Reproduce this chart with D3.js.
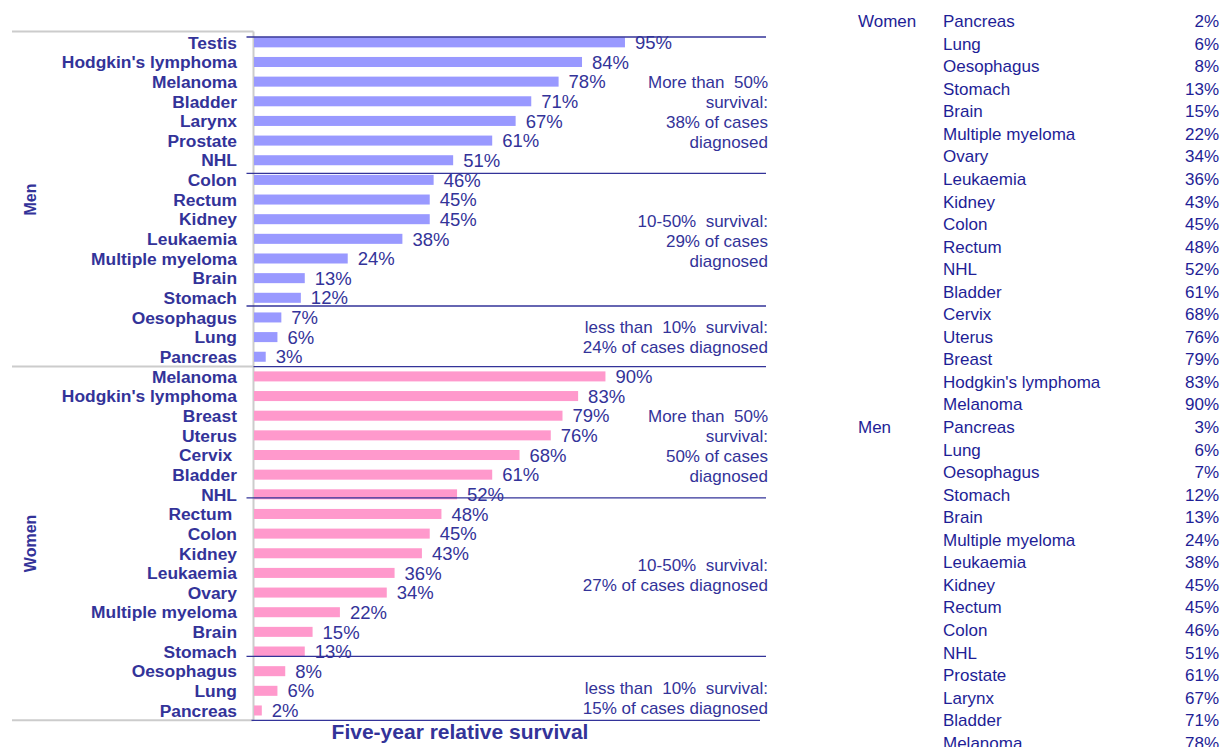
<!DOCTYPE html>
<html>
<head>
<meta charset="utf-8">
<script src="https://cdn.jsdelivr.net/npm/d3@7"></script>
<style>
  body { margin: 0; background: #fff; overflow: hidden; }
  svg text { font-family: "Liberation Sans", Arial, sans-serif; white-space: pre; }
</style>
</head>
<body>
<div id="chart"></div>
<script>
// source table, ascending survival (as listed on the right)
const womenCancers = ['Pancreas', 'Lung', 'Oesophagus', 'Stomach', 'Brain', 'Multiple myeloma', 'Ovary', 'Leukaemia',
  'Kidney', 'Colon', 'Rectum ', 'NHL', 'Bladder', 'Cervix ', 'Uterus', 'Breast', "Hodgkin's lymphoma", 'Melanoma'];
const womenSurvival = [2, 6, 8, 13, 15, 22, 34, 36, 43, 45, 48, 52, 61, 68, 76, 79, 83, 90];

const menCancers = ['Pancreas', 'Lung', 'Oesophagus', 'Stomach', 'Brain', 'Multiple myeloma', 'Leukaemia', 'Kidney',
  'Rectum', 'Colon', 'NHL', 'Prostate', 'Larynx', 'Bladder', 'Melanoma', "Hodgkin's lymphoma", 'Testis'];
const menSurvival = [3, 6, 7, 12, 13, 24, 38, 45, 45, 46, 51, 61, 67, 71, 78, 84, 95];

// survival bands, top to bottom: >50%, 10-50%, <10%
const bandThresholds = [50, 10];
const menNotes = [
  ['More than  50%', 'survival:', '38% of cases', 'diagnosed'],
  ['10-50%  survival:', '29% of cases', 'diagnosed'],
  ['less than  10%  survival:', '24% of cases diagnosed']
];
const womenNotes = [
  ['More than  50%', 'survival:', '50% of cases', 'diagnosed'],
  ['10-50%  survival:', '27% of cases diagnosed'],
  ['less than  10%  survival:', '15% of cases diagnosed']
];

const width = 1228,
  height = 747;

const textColor = '#333399',
  tableColor = '#1e1e96',
  greyLine = '#cccccc';

// the separator lines and text boxes were placed by hand in the original,
// so nudge them a little from the exact band edges / centres
const lineNudge = [[4.5, 3.3, -1.6], [0, -6.3, -5]];
const noteNudge = [[11, 2, 0], [11, -8, 7]];

const groups = [
  { sex: 'Men', names: menCancers, values: menSurvival, notes: menNotes, color: '#9999ff' },
  { sex: 'Women', names: womenCancers, values: womenSurvival, notes: womenNotes, color: '#ff99cc' }
];

function bandOf(v) {
  if (v > bandThresholds[0]) return 0;
  if (v >= bandThresholds[1]) return 1;
  return 2;
}

// chart rows: highest survival at the top of each group
const rows = [];
groups.forEach(function (g) {
  d3.range(g.names.length - 1, -1, -1).forEach(function (i) {
    rows.push({ key: g.sex + '|' + i, sex: g.sex, name: g.names[i], value: g.values[i], band: bandOf(g.values[i]), color: g.color });
  });
});

const svg = d3.select('#chart')
  .append('svg')
  .attr('width', width)
  .attr('height', height);

const x = d3.scaleLinear()
  .domain([0, 100])
  .range([254, 644.5]);

const y = d3.scaleBand()
  .domain(rows.map(function (d) { return d.key; }))
  .range([32.5, 720.3])
  .paddingInner(0.49)
  .paddingOuter(0.245);

const gap = y.step() * y.paddingInner() / 2;
const rowTop = function (key) { return y(key) - gap; };
const rowBottom = function (key) { return y(key) + y.bandwidth() + gap; };
const axisX = x(0) - 0.5;

//Grey category frame
svg.append('line')
  .attr('x1', axisX).attr('x2', axisX)
  .attr('y1', y.range()[0] - 1).attr('y2', y.range()[1])
  .style('stroke', greyLine).style('stroke-width', 2);

const frameYs = [y.range()[0] - 1];
groups.forEach(function (g) {
  const gRows = rows.filter(function (d) { return d.sex === g.sex; });
  frameYs.push(rowBottom(gRows[gRows.length - 1].key));
});

svg.selectAll('.frameLine')
  .data(frameYs)
  .enter().append('line')
  .attr('class', 'frameLine')
  .attr('x1', 12).attr('x2', axisX)
  .attr('y1', function (d) { return d; })
  .attr('y2', function (d) { return d; })
  .style('stroke', greyLine).style('stroke-width', 2);

//Bars
svg.selectAll('.bar')
  .data(rows)
  .enter().append('rect')
  .attr('class', 'bar')
  .attr('x', x(0))
  .attr('y', function (d) { return y(d.key); })
  .attr('width', function (d) { return x(d.value) - x(0); })
  .attr('height', y.bandwidth())
  .style('fill', function (d) { return d.color; });

//Category names
svg.selectAll('.catLabel')
  .data(rows)
  .enter().append('text')
  .attr('class', 'catLabel')
  .attr('x', 237)
  .attr('y', function (d) { return y(d.key) + y.bandwidth() / 2; })
  .attr('dy', '0.36em')
  .attr('text-anchor', 'end')
  .style('font-size', '17.4px')
  .style('font-weight', 'bold')
  .style('fill', textColor)
  .text(function (d) { return d.name; });

//Value labels
svg.selectAll('.valLabel')
  .data(rows)
  .enter().append('text')
  .attr('class', 'valLabel')
  .attr('x', function (d) { return x(d.value) + 10; })
  .attr('y', function (d) { return y(d.key) + y.bandwidth() / 2; })
  .attr('dy', '0.36em')
  .style('font-size', '18.5px')
  .style('fill', textColor)
  .text(function (d) { return d.value + '%'; });

//Band separators and notes
groups.forEach(function (g, gi) {
  d3.range(3).forEach(function (b) {
    const bRows = rows.filter(function (d) { return d.sex === g.sex && d.band === b; });
    const top = rowTop(bRows[0].key),
      bottom = rowBottom(bRows[bRows.length - 1].key),
      lineY = top + lineNudge[gi][b];

    svg.append('line')
      .attr('x1', (gi > 0 && b === 0) ? axisX : axisX - 7)
      .attr('x2', 766)
      .attr('y1', lineY).attr('y2', lineY)
      .style('stroke', textColor).style('stroke-width', 1.3);

    const lines = g.notes[b],
      mid = (top + bottom) / 2 + noteNudge[gi][b];

    svg.append('g')
      .selectAll('text')
      .data(lines)
      .enter().append('text')
      .attr('x', 768)
      .attr('y', function (d, i) { return mid + (i - (lines.length - 1) / 2) * 20; })
      .attr('dy', '0.36em')
      .attr('text-anchor', 'end')
      .style('font-size', '17px')
      .style('fill', textColor)
      .text(function (d) { return d; });
  });
});

//Bottom line
svg.append('line')
  .attr('x1', axisX - 2).attr('x2', 760)
  .attr('y1', y.range()[1]).attr('y2', y.range()[1])
  .style('stroke', textColor).style('stroke-width', 1.3);

//Sex labels
groups.forEach(function (g) {
  const gRows = rows.filter(function (d) { return d.sex === g.sex; });
  const mid = (rowTop(gRows[0].key) + rowBottom(gRows[gRows.length - 1].key)) / 2;
  svg.append('text')
    .attr('transform', 'translate(30,' + mid + ') rotate(-90)')
    .attr('dy', '0.36em')
    .attr('text-anchor', 'middle')
    .style('font-size', '16px')
    .style('font-weight', 'bold')
    .style('fill', textColor)
    .text(g.sex);
});

//Axis title
svg.append('text')
  .attr('x', 460)
  .attr('y', 739)
  .attr('text-anchor', 'middle')
  .style('font-size', '21px')
  .style('font-weight', 'bold')
  .style('fill', textColor)
  .text('Five-year relative survival');

///////////////////////////////////////////////////////////////////////////
/////////////////////////// Source data table /////////////////////////////
///////////////////////////////////////////////////////////////////////////

const tableRows = [];
groups.slice().reverse().forEach(function (g) {
  g.names.forEach(function (n, i) {
    tableRows.push({ sex: i === 0 ? g.sex : '', name: n.trim(), value: g.values[i] });
  });
});

const ty = d3.scaleLinear()
  .domain([0, 1])
  .range([21, 43.55]);

const table = svg.append('g')
  .attr('class', 'table')
  .selectAll('g')
  .data(tableRows)
  .enter().append('g')
  .attr('transform', function (d, i) { return 'translate(0,' + ty(i) + ')'; });

table.append('text')
  .attr('x', 858)
  .attr('dy', '0.36em')
  .style('font-size', '17px')
  .style('fill', tableColor)
  .text(function (d) { return d.sex; });

table.append('text')
  .attr('x', 943)
  .attr('dy', '0.36em')
  .style('font-size', '17px')
  .style('fill', tableColor)
  .text(function (d) { return d.name; });

table.append('text')
  .attr('x', 1219)
  .attr('dy', '0.36em')
  .attr('text-anchor', 'end')
  .style('font-size', '17px')
  .style('fill', tableColor)
  .text(function (d) { return d.value + '%'; });
</script>
</body>
</html>
